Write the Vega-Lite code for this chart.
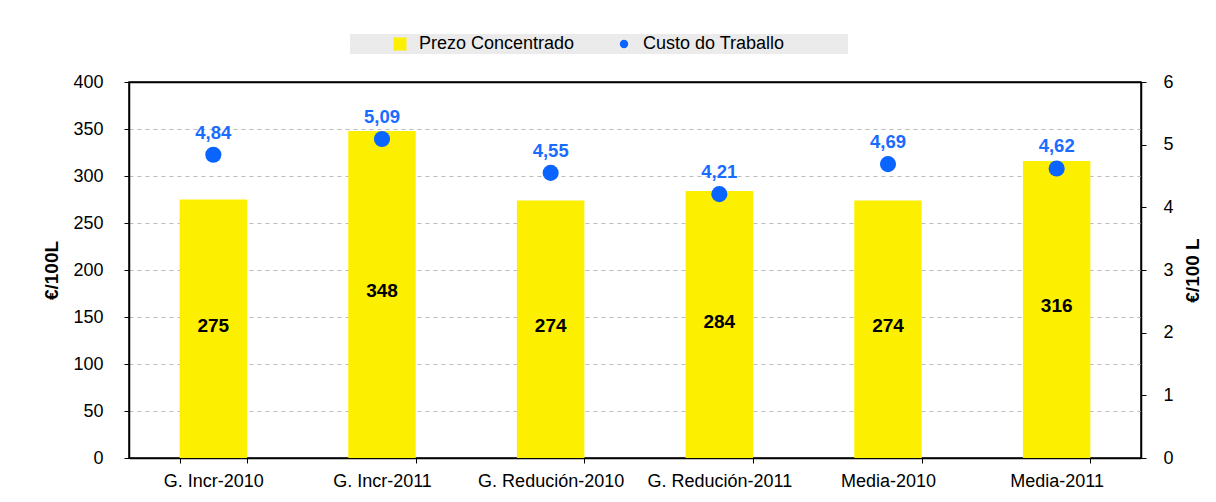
{
  "$schema": "https://vega.github.io/schema/vega-lite/v6.json",
  "width": 1012,
  "height": 376,
  "autosize": {"type": "none"},
  "padding": {"left": 129, "top": 82, "right": 75, "bottom": 44},
  "background": "#ffffff",
  "data": {
    "values": [
      {"cat": "G. Incr-2010", "precio": 275, "custo": 4.84},
      {"cat": "G. Incr-2011", "precio": 348, "custo": 5.09},
      {"cat": "G. Redución-2010", "precio": 274, "custo": 4.55},
      {"cat": "G. Redución-2011", "precio": 284, "custo": 4.21},
      {"cat": "Media-2010", "precio": 274, "custo": 4.69},
      {"cat": "Media-2011", "precio": 316, "custo": 4.62}
    ]
  },
  "encoding": {
    "x": {
      "field": "cat",
      "type": "nominal",
      "sort": null,
      "scale": {"paddingInner": 0.6, "paddingOuter": 0.3},
      "axis": {
        "title": null,
        "labelAngle": 0,
        "labelFontSize": 18,
        "labelFont": "Liberation Sans",
        "labelColor": "#000",
        "labelPadding": 9,
        "tickBand": "extent",
        "tickSize": 5,
        "tickColor": "#000",
        "domainColor": "#000",
        "domainWidth": 1.5,
        "grid": false
      }
    }
  },
  "layer": [
    {
      "mark": {"type": "bar", "color": "#FCF000"},
      "encoding": {
        "y": {
          "field": "precio",
          "type": "quantitative",
          "scale": {"domain": [0, 400], "nice": false},
          "axis": {
            "title": "€/100L",
            "titleFont": "Liberation Sans",
            "titleFontSize": 19,
            "titleFontWeight": "bold",
            "titleColor": "#000",
            "titlePadding": 11,
            "values": [0, 50, 100, 150, 200, 250, 300, 350, 400],
            "labelFontSize": 18,
            "labelFont": "Liberation Sans",
            "labelColor": "#000",
            "labelPadding": 21,
            "tickSize": 5,
            "tickColor": "#000",
            "domainColor": "#000",
            "domainWidth": 1.5,
            "grid": true,
            "gridColor": {"condition": {"test": "datum.value >= 400", "value": "#000000"}, "value": "#bbbbbb"},
            "gridDash": {"condition": {"test": "datum.value >= 400", "value": [1, 0]}, "value": [4, 4]},
            "gridWidth": {"condition": {"test": "datum.value >= 400", "value": 1.5}, "value": 1.2}
          }
        },
        "color": {
          "datum": "Prezo Concentrado",
          "scale": {"domain": ["Prezo Concentrado", "Custo do Traballo"], "range": ["#FCF000", "#0A64FF"]},
          "legend": {
            "title": " ",
            "titleOrient": "right",
            "titlePadding": 63,
            "orient": "none",
            "legendX": 221,
            "legendY": -48,
            "direction": "horizontal",
            "fillColor": "#ebebeb",
            "padding": 1,
            "symbolOffset": 40,
            "columnPadding": 0,
            "labelOffset": 10,
            "labelFont": "Liberation Sans",
            "labelFontSize": 18,
            "labelColor": "#000",
            "symbolStrokeWidth": 0,
            "encode": {
              "symbols": {
                "update": {
                  "shape": {"signal": "datum.value === 'Prezo Concentrado' ? 'square' : 'circle'"},
                  "size": {"signal": "datum.value === 'Prezo Concentrado' ? 169 : 70"}
                }
              }
            }
          }
        }
      }
    },
    {
      "mark": {"type": "text", "fontWeight": "bold", "fontSize": 19, "font": "Liberation Sans", "color": "#000", "baseline": "middle", "dy": -3},
      "encoding": {
        "y": {"field": "precio", "type": "quantitative", "scale": {"domain": [0, 800], "nice": false}, "axis": null},
        "text": {"field": "precio", "type": "quantitative"}
      }
    },
    {
      "mark": {"type": "point", "shape": "circle", "filled": true, "size": 260, "opacity": 1},
      "encoding": {
        "y": {
          "field": "custo",
          "type": "quantitative",
          "scale": {"domain": [0, 6], "nice": false},
          "axis": {
            "orient": "right",
            "title": "€/100 L",
            "titleFont": "Liberation Sans",
            "titleFontSize": 19,
            "titleFontWeight": "bold",
            "titleColor": "#000",
            "titlePadding": 10,
            "titleAngle": 270,
            "titleBaseline": "top",
            "values": [0, 1, 2, 3, 4, 5, 6],
            "format": "d",
            "labelFontSize": 18,
            "labelFont": "Liberation Sans",
            "labelColor": "#000",
            "labelPadding": 17,
            "tickSize": 5,
            "tickColor": "#000",
            "domainColor": "#000",
            "domainWidth": 1.5,
            "grid": false
          }
        },
        "color": {"datum": "Custo do Traballo"}
      }
    },
    {
      "mark": {"type": "text", "fontWeight": "bold", "fontSize": 18.5, "font": "Liberation Sans", "color": "#1A6BFF", "baseline": "middle", "dy": -22},
      "encoding": {
        "y": {"field": "custo", "type": "quantitative", "scale": {"domain": [0, 6], "nice": false}, "axis": null},
        "text": {"field": "custo", "type": "quantitative", "format": ".2f"}
      }
    }
  ],
  "resolve": {"scale": {"y": "independent"}},
  "config": {
    "locale": {"number": {"decimal": ",", "thousands": ".", "grouping": [3], "currency": ["", " €"]}},
    "view": {"stroke": "#000", "strokeWidth": 1.5}
  }
}
